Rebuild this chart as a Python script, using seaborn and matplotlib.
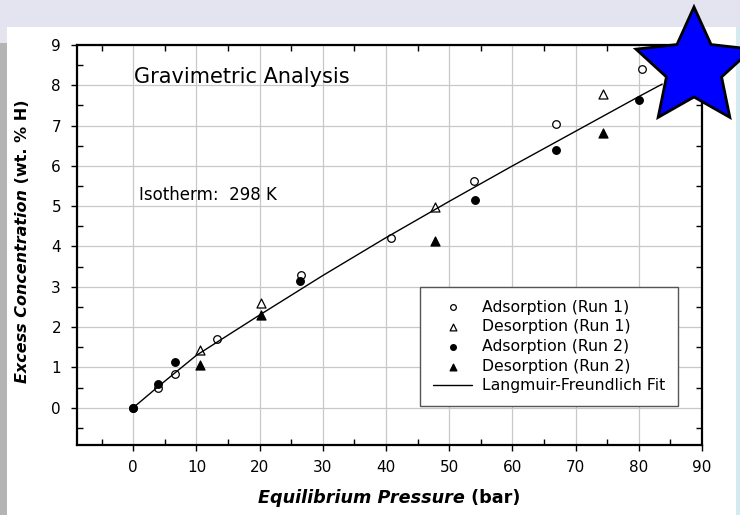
import numpy as np
import pandas as pd
import matplotlib
matplotlib.use("Agg")
import matplotlib.pyplot as plt
import seaborn as sns
from matplotlib.patches import Rectangle, Polygon
from matplotlib.ticker import MultipleLocator

# Hydrogen uptake measured at 298 K (pressure in bar, excess wt. % H)
ads1_p = [0.0, 3.95, 6.6, 13.3, 26.6, 40.8, 53.9, 66.9, 80.5]
ads1_c = [0.0, 0.48, 0.83, 1.71, 3.30, 4.20, 5.63, 7.04, 8.41]

des1_p = [10.5, 20.2, 47.7, 74.3]
des1_c = [1.42, 2.59, 4.98, 7.79]

ads2_p = [0.0, 3.95, 6.6, 26.4, 54.1, 66.9, 80.1]
ads2_c = [0.0, 0.59, 1.13, 3.15, 5.15, 6.39, 7.64]

des2_p = [10.6, 20.2, 47.7, 74.3]
des2_c = [1.07, 2.30, 4.14, 6.82]

# Langmuir-Freundlich fit curve
fit_p = [0.0, 4.0, 10.0, 20.0, 30.0, 40.0, 50.0, 60.0, 70.0, 80.0, 83.7]
fit_c = [0.0, 0.53, 1.30, 2.30, 3.28, 4.22, 5.12, 6.00, 6.86, 7.72, 8.03]

x_ticks = [0, 10, 20, 30, 40, 50, 60, 70, 80, 90]
y_ticks = [0, 1, 2, 3, 4, 5, 6, 7, 8, 9]

series_labels = ["Adsorption (Run 1)", "Desorption (Run 1)",
                 "Adsorption (Run 2)", "Desorption (Run 2)"]
fit_label = "Langmuir-Freundlich Fit"

sns.set_theme(style="white")
plt.rcParams["font.family"] = ["DejaVu Sans"]
plt.rcParams["text.color"] = "black"
plt.rcParams["axes.labelcolor"] = "black"
plt.rcParams["xtick.color"] = "black"
plt.rcParams["ytick.color"] = "black"

W, H = 740, 515
fig = plt.figure(figsize=(W / 100, H / 100), dpi=100, facecolor="white")


def px_rect(x0, y0, x1, y1, color):
    """Rectangle given in pixel coordinates measured from the top-left corner."""
    fig.patches.append(Rectangle((x0 / W, 1 - y1 / H), (x1 - x0) / W, (y1 - y0) / H,
                                 transform=fig.transFigure, facecolor=color,
                                 edgecolor="none", zorder=0))


# page frame around the plot
px_rect(0, 0, W, 27, "#E3E4F0")
px_rect(0, 27, 7, 43, "#E3E4F0")
px_rect(0, 43, 7, H, "#B4B4B4")
px_rect(736, 27, W, H, "#D6EBF1")

ax = fig.add_axes([77 / W, 1 - 445 / H, (702 - 77) / W, (445 - 45) / H])
ax.set_facecolor("white")

frames = [
    (ads1_p, ads1_c, series_labels[0]),
    (des1_p, des1_c, series_labels[1]),
    (ads2_p, ads2_c, series_labels[2]),
    (des2_p, des2_c, series_labels[3]),
]
styles = [
    dict(marker="o", facecolor="white", s=30),
    dict(marker="^", facecolor="white", s=42),
    dict(marker="o", facecolor="black", s=30),
    dict(marker="^", facecolor="black", s=42),
]
for (p, c, lab), st in zip(frames, styles):
    df = pd.DataFrame({"p": p, "c": c})
    sns.scatterplot(data=df, x="p", y="c", ax=ax, marker=st["marker"],
                    facecolor=st["facecolor"], edgecolor="black", s=st["s"],
                    linewidth=0.9, label=lab, zorder=3)

fit_df = pd.DataFrame({"p": fit_p, "c": fit_c})
sns.lineplot(data=fit_df, x="p", y="c", ax=ax, color="black", linewidth=1.0,
             sort=False, estimator=None, label=fit_label, zorder=4)

ax.set_xlim(-8.9, 90)
ax.set_ylim(-0.926, 9)
ax.set_xticks(x_ticks)
ax.set_yticks(y_ticks)
ax.xaxis.set_minor_locator(MultipleLocator(5))
ax.yaxis.set_minor_locator(MultipleLocator(0.5))
ax.set_xlabel("")
ax.set_ylabel("")

ax.grid(True, which="major", color="#C8C8C8", linewidth=0.9)
ax.set_axisbelow(True)
for sp in ax.spines.values():
    sp.set_visible(True)
    sp.set_color("black")
    sp.set_linewidth(1.6)

ax.tick_params(which="major", direction="out", length=4, width=1,
               bottom=True, left=True, top=False, right=False,
               labelsize=11, pad=6.5)
ax.tick_params(axis="y", which="major", pad=7.5)
ax.tick_params(which="minor", direction="in", length=4, width=1,
               bottom=True, left=True, top=True, right=True)

# legend: markers first, fit line last
handles, labels = ax.get_legend_handles_labels()
order = [labels.index(l) for l in series_labels + [fit_label]]
leg = ax.legend([handles[i] for i in order], [labels[i] for i in order],
                loc="lower right", bbox_to_anchor=(0.962, 0.0975),
                fontsize=11.3, frameon=True, fancybox=False, framealpha=1,
                edgecolor="#555555", markerscale=0.75, handlelength=2.5,
                handletextpad=0.65, borderpad=0.8, labelspacing=0.3,
                borderaxespad=0)
leg.get_frame().set_linewidth(1.0)
leg.set_zorder(5)

ax.text(0.0912, 0.904, "Gravimetric Analysis", transform=ax.transAxes,
        fontsize=15, ha="left", va="baseline")
ax.text(0.0992, 0.6125, "Isotherm:  298 K", transform=ax.transAxes,
        fontsize=12, ha="left", va="baseline")

# axis titles with an italic part and an upright part
renderer = fig.canvas.get_renderer()
xa = fig.text(0, 0, "Equilibrium Pressure", fontsize=12.7, fontweight="bold",
              fontstyle="italic", ha="left", va="baseline")
xb = fig.text(0, 0, " (bar)", fontsize=12.7, fontweight="bold",
              ha="left", va="baseline")
wa = xa.get_window_extent(renderer).width
wb = xb.get_window_extent(renderer).width
x0 = 389 - (wa + wb) / 2
base = H - 503.3
xa.set_position((x0 / W, base / H))
xb.set_position(((x0 + wa) / W, base / H))

ya = fig.text(0, 0, "Excess Concentration", fontsize=11.5, fontweight="bold",
              fontstyle="italic", rotation=90, ha="center", va="bottom")
yb = fig.text(0, 0, " (wt. % H)", fontsize=11.5, fontweight="bold",
              rotation=90, ha="center", va="bottom")
ha_ = ya.get_window_extent(renderer).height
hb_ = yb.get_window_extent(renderer).height
y0 = (H - 241) - (ha_ + hb_) / 2
ya.set_position((23 / W, y0 / H))
yb.set_position((23 / W, (y0 + ha_) / H))

# blue star in the upper right corner
cx, cy, R, r = 694, 68, 61, 29
ang = np.deg2rad(90 + 36 * np.arange(10))
rad = np.where(np.arange(10) % 2 == 0, R, r)
verts = np.column_stack([(cx + rad * np.cos(ang)) / W,
                         1 - (cy - rad * np.sin(ang)) / H])
fig.patches.append(Polygon(verts, closed=True, transform=fig.transFigure,
                           facecolor="#0000FF", edgecolor="black",
                           linewidth=2, zorder=10))

fig.savefig("out.png", dpi=100, facecolor="white")
